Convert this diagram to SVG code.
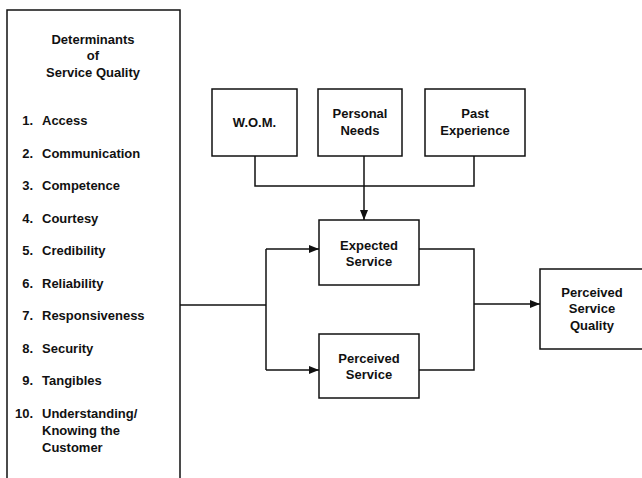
<svg xmlns="http://www.w3.org/2000/svg" width="642" height="478" viewBox="0 0 642 478">
<style>
.box{fill:#fff;stroke:#111;stroke-width:1.5}
.ln{fill:none;stroke:#111;stroke-width:1.5}
text{font-family:"Liberation Sans",Arial,sans-serif;font-weight:bold;font-size:13px;fill:#111}
.c{text-anchor:middle}
.n{text-anchor:end}
</style>
<defs>
<marker id="ah" viewBox="0 0 10 8" refX="10" refY="4" markerWidth="10" markerHeight="8" markerUnits="userSpaceOnUse" orient="auto">
<path d="M0,0 L10,4 L0,8 Z" fill="#111"/>
</marker>
</defs>
<rect width="642" height="478" fill="#fff"/>
<g id="determinants">
<path class="ln" d="M7,480 V10 H180 V480"/>
<text class="c" x="93" y="44">Determinants</text>
<text class="c" x="93" y="60">of</text>
<text class="c" x="93" y="77">Service Quality</text>
<text class="n" x="33" y="125">1.</text><text x="42" y="125">Access</text>
<text class="n" x="33" y="157.5">2.</text><text x="42" y="157.5">Communication</text>
<text class="n" x="33" y="190">3.</text><text x="42" y="190">Competence</text>
<text class="n" x="33" y="222.5">4.</text><text x="42" y="222.5">Courtesy</text>
<text class="n" x="33" y="255">5.</text><text x="42" y="255">Credibility</text>
<text class="n" x="33" y="287.5">6.</text><text x="42" y="287.5">Reliability</text>
<text class="n" x="33" y="320">7.</text><text x="42" y="320">Responsiveness</text>
<text class="n" x="33" y="352.5">8.</text><text x="42" y="352.5">Security</text>
<text class="n" x="33" y="385">9.</text><text x="42" y="385">Tangibles</text>
<text class="n" x="33" y="418">10.</text><text x="42" y="418">Understanding/</text>
<text x="42" y="435">Knowing the</text>
<text x="42" y="452">Customer</text>
</g>
<g id="wom">
<rect class="box" x="212" y="89" width="85" height="67"/>
<text class="c" x="254.5" y="127">W.O.M.</text>
</g>
<g id="personal-needs">
<rect class="box" x="318" y="89" width="84" height="67"/>
<text class="c" x="360" y="118">Personal</text>
<text class="c" x="360" y="135">Needs</text>
</g>
<g id="past-experience">
<rect class="box" x="425" y="89" width="100" height="67"/>
<text class="c" x="475" y="118">Past</text>
<text class="c" x="475" y="135">Experience</text>
</g>
<g id="expected-service">
<rect class="box" x="319" y="220" width="100" height="65"/>
<text class="c" x="369" y="250">Expected</text>
<text class="c" x="369" y="266">Service</text>
</g>
<g id="perceived-service">
<rect class="box" x="319" y="334" width="100" height="64"/>
<text class="c" x="369" y="363">Perceived</text>
<text class="c" x="369" y="379">Service</text>
</g>
<g id="perceived-service-quality">
<rect class="box" x="540" y="269" width="106" height="80"/>
<text class="c" x="592" y="297">Perceived</text>
<text class="c" x="592" y="313">Service</text>
<text class="c" x="592" y="330">Quality</text>
</g>
<g id="connectors">
<path class="ln" d="M255,156 V186 H474 V156"/>
<path class="ln" d="M364,156 V220" marker-end="url(#ah)"/>
<path class="ln" d="M180,305 H266"/>
<path class="ln" d="M266,249 V370"/>
<path class="ln" d="M266,249 H319" marker-end="url(#ah)"/>
<path class="ln" d="M266,370 H319" marker-end="url(#ah)"/>
<path class="ln" d="M419,249 H474 V370 H419"/>
<path class="ln" d="M474,304 H540" marker-end="url(#ah)"/>
</g>
</svg>
